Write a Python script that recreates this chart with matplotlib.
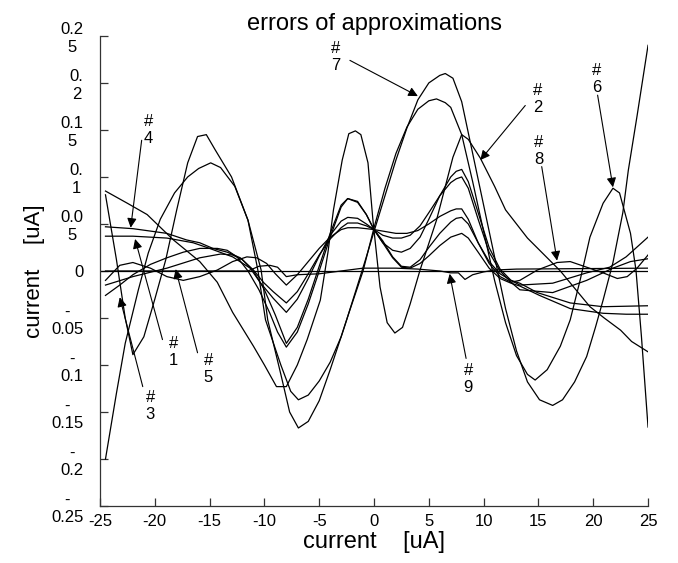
import matplotlib
matplotlib.use("Agg")
import matplotlib.pyplot as plt

plt.rcParams['font.family'] = ['Liberation Sans', 'DejaVu Sans']

# ---- data (x in uA, error in uA) ----
c7_x = [-24.5, -23.5, -22.7, -22, -21, -20, -19, -18, -17, -16.1, -15.3, -14.5, -13, -11.5, -10.3, -9.7,
        -8.5, -7.7, -6.9, -6, -5, -4, -3, -2.5, -1.5, -0.7, 0, 1, 2, 3, 4, 5, 6, 6.5, 7.2, 8, 9, 10, 11,
        12, 13, 14, 15.1, 16.3, 17.2, 18.3, 19.4, 20.2, 20.9, 21.8, 22.7, 23.2, 24, 25]
c7_y = [0.081, 0.012, -0.05, -0.089, -0.07, -0.03, 0.012, 0.065, 0.115, 0.143, 0.145, 0.129, 0.1, 0.054, 0.001, -0.052,
        -0.11, -0.15, -0.167, -0.16, -0.138, -0.105, -0.07, -0.052, -0.015, 0.015, 0.042, 0.08, 0.118, 0.152, 0.182, 0.2,
        0.208, 0.21, 0.205, 0.18, 0.125, 0.07, 0.015, -0.04, -0.085, -0.118, -0.137, -0.143, -0.137, -0.118, -0.091,
        -0.06, -0.031, 0.009, 0.062, 0.107, 0.165, 0.24]

c6_x = [-24.5, -23.5, -22.7, -21.5, -20.6, -19.5, -18.2, -17, -16, -14.9, -14, -12.7, -11.5, -10.6, -9.9, -8.5,
        -7.6, -6.9, -6, -5, -4, -3, -2.3, -1, 0, 1, 2, 3, 4, 5, 5.7, 6.5, 7, 8, 9, 10, 11, 12, 13, 14, 14.7,
        15.8, 17, 17.9, 18.8, 19.7, 20.9, 21.8, 22.4, 23.4, 23.9, 24.4, 25]
c6_y = [-0.2, -0.13, -0.077, -0.02, 0.019, 0.055, 0.083, 0.1, 0.109, 0.115, 0.11, 0.09, 0.054, 0.001, -0.052, -0.1,
        -0.128, -0.137, -0.132, -0.117, -0.097, -0.07, -0.045, 0.0, 0.046, 0.088, 0.125, 0.153, 0.172, 0.181, 0.183,
        0.179, 0.174, 0.145, 0.095, 0.042, -0.01, -0.055, -0.09, -0.11, -0.116, -0.105, -0.08, -0.052, -0.01, 0.036,
        0.072, 0.088, 0.083, 0.04, 0.001, -0.07, -0.166]

c2_x = [-24.5, -22.5, -20.7, -18.3, -15.9, -14.3, -12.9, -11, -10, -8.9, -8, -7, -6.1, -4.9, -4.2, -3.7, -2.9,
        -2.3, -1.7, -1.2, -0.55, -0.1, 0.55, 1.2, 1.9, 2.6, 3.3, 4.2, 5.7, 7.2, 8, 8.6, 9.7, 11, 12, 14, 17,
        19.7, 21, 22.5, 23.5, 25]
c2_y = [0.085, 0.072, 0.06, 0.033, 0.01, -0.012, -0.044, -0.08, -0.1, -0.123, -0.123, -0.1, -0.073, -0.031, 0.02,
        0.065, 0.118, 0.146, 0.149, 0.145, 0.115, 0.054, -0.017, -0.055, -0.066, -0.06, -0.035, 0.001, 0.054, 0.121,
        0.145, 0.14, 0.12, 0.09, 0.065, 0.035, 0.0, -0.038, -0.05, -0.063, -0.075, -0.086]

c4_x = [-24.5, -22, -18.9, -17.1, -15.9, -14.7, -13.4, -12.2, -11, -10.1, -9.2, -8, -7, -6, -5, -4, -3, -2.4,
        -1.5, -0.7, 0, 0.8, 1.7, 2.5, 3.3, 4.2, 5, 6, 7, 8, 8.6, 9.5, 10.5, 11.5, 12.5, 13.3, 15.1, 17.9, 20.9,
        23, 25]
c4_y = [0.047, 0.045, 0.040, 0.033, 0.030, 0.024, 0.020, 0.014, 0.001, -0.012, -0.022, -0.034, -0.022, -0.003,
        0.017, 0.034, 0.046, 0.051, 0.051, 0.048, 0.044, 0.03, 0.014, 0.004, 0.003, 0.008, 0.016, 0.027, 0.036,
        0.040, 0.035, 0.02, 0.003, -0.008, -0.013, -0.016, -0.026, -0.04, -0.045, -0.046, -0.046]

c1_x = [-24.5, -22, -18.9, -16.5, -15, -12.9, -11.3, -10.4, -9.2, -8, -7, -6, -5, -4, -3, -2.4, -1.5, -0.7, 0,
        0.8, 1.7, 2.5, 3.3, 4.2, 5, 6, 7, 7.5, 8, 8.6, 9.5, 10.5, 11.5, 12.5, 13.3, 14.9, 17.9, 20.9, 25]
c1_y = [0.037, 0.037, 0.035, 0.030, 0.024, 0.015, 0.003, -0.012, -0.029, -0.044, -0.03, -0.008, 0.016, 0.038,
        0.053, 0.057, 0.056, 0.05, 0.044, 0.032, 0.015, 0.005, 0.004, 0.012, 0.025, 0.04, 0.052, 0.056, 0.057,
        0.05, 0.03, 0.01, -0.003, -0.01, -0.013, -0.023, -0.034, -0.038, -0.037]

c8_x = [-24.5, -23.2, -22, -20.4, -18.9, -17.4, -15.9, -14.3, -12.9, -11.6, -10.7, -9.8, -9, -8, -7, -6, -5,
        -4, -3, -2.4, -1.5, -0.7, 0, 1, 2, 3, 4, 5, 6, 7, 7.5, 8, 8.6, 9.5, 10.5, 11.5, 12.5, 13.3, 14.9, 16.7,
        17.9, 19.4, 20.9, 22.2, 23.1, 24, 25]
c8_y = [-0.01, 0.006, 0.009, 0.003, -0.006, -0.01, -0.006, 0.001, 0.01, 0.015, 0.014, 0.008, -0.003, -0.015,
        -0.004, 0.01, 0.024, 0.036, 0.044, 0.046, 0.046, 0.045, 0.044, 0.042, 0.04, 0.04, 0.043, 0.05, 0.058,
        0.064, 0.066, 0.066, 0.055, 0.03, 0.008, -0.006, -0.012, -0.01, 0.001, 0.009, 0.01, 0.004, -0.002,
        -0.008, -0.006, 0.003, 0.017]

c5_x = [-24.5, -22, -18.9, -15.9, -14, -12.9, -12, -11, -10, -9, -8, -7, -6, -5, -4, -3, -2.4, -1.5, -0.7, 0,
        0.8, 1.7, 2.5, 3.3, 4.2, 5, 6, 7, 7.5, 8, 8.6, 9.5, 10.5, 11.5, 12.5, 13.3, 16.3, 19.4, 21.8, 23.4, 25]
c5_y = [-0.015, -0.006, 0.003, 0.014, 0.018, 0.017, 0.012, 0.0, -0.02, -0.047, -0.077, -0.06, -0.03, 0.005,
        0.04, 0.07, 0.077, 0.073, 0.06, 0.044, 0.038, 0.035, 0.035, 0.038, 0.048, 0.062, 0.08, 0.094, 0.098,
        0.1, 0.088, 0.055, 0.02, 0.0, -0.012, -0.02, -0.023, -0.01, 0.003, 0.01, 0.013]

c3_x = [-24.5, -23.2, -22, -20.4, -18.9, -17.4, -15.9, -14.3, -13.4, -12.5, -11.5, -10.5, -9.5, -8.8, -8, -7,
        -6, -5, -4, -3, -2.4, -1.5, -0.7, 0, 0.8, 1.7, 2.5, 3.3, 4.2, 5, 6, 7, 7.5, 8, 8.6, 9.5, 10.5, 11.5,
        12.5, 13.3, 16.3, 19.4, 21.5, 23, 25]
c3_y = [-0.026, -0.015, -0.004, 0.007, 0.014, 0.02, 0.024, 0.024, 0.022, 0.015, 0.0, -0.02, -0.045, -0.065,
        -0.081, -0.065, -0.035, 0.0, 0.036, 0.068, 0.077, 0.074, 0.06, 0.044, 0.03, 0.022, 0.02, 0.024, 0.036,
        0.055, 0.08, 0.1, 0.106, 0.108, 0.095, 0.062, 0.025, 0.002, -0.01, -0.015, -0.013, -0.002, 0.004, 0.015,
        0.036]

c9_x = [-24.5, -11.5, -10.5, -9.5, -8.8, -8, -7, -5, -3, -1, 0, 2, 4, 6, 7, 7.7, 8.3, 9, 10, 11, 13, 25]
c9_y = [0.0, 0.0, 0.005, 0.006, 0.004, -0.006, -0.004, -0.003, 0.0, 0.003, 0.003, 0.003, 0.002, 0.0, -0.002,
        -0.002, -0.009, -0.004, -0.001, 0.001, 0.002, 0.003]

curves = [(c1_x, c1_y), (c2_x, c2_y), (c3_x, c3_y), (c4_x, c4_y), (c5_x, c5_y),
          (c6_x, c6_y), (c7_x, c7_y), (c8_x, c8_y), (c9_x, c9_y)]

xtick_vals = [-25, -20, -15, -10, -5, 0, 5, 10, 15, 20, 25]
ytick_vals = [-0.25, -0.2, -0.15, -0.1, -0.05, 0, 0.05, 0.1, 0.15, 0.2, 0.25]
ytick_text = ["-\n0.25", "-\n0.2", "-\n0.15", "-\n0.1", "-\n0.05", "0",
              "0.0\n5", "0.\n1", "0.1\n5", "0.\n2", "0.2\n5"]

# label text, label centre, arrow start, arrow tip
notes = [
    ("#\n7", (-3.5, 0.228), (-2.2, 0.224), (4.0, 0.186)),
    ("#\n2", (14.9, 0.183), (13.8, 0.176), (9.7, 0.118)),
    ("#\n8", (15.0, 0.128), (15.3, 0.111), (16.7, 0.011)),
    ("#\n6", (20.3, 0.204), (20.4, 0.187), (21.8, 0.089)),
    ("#\n4", (-20.6, 0.150), (-21.2, 0.139), (-22.2, 0.046)),
    ("#\n1", (-18.3, -0.086), (-19.3, -0.073), (-21.8, 0.034)),
    ("#\n5", (-15.1, -0.104), (-16.1, -0.087), (-18.1, 0.002)),
    ("#\n3", (-20.4, -0.144), (-21.1, -0.123), (-23.2, -0.028)),
    ("#\n9", (8.6, -0.115), (8.4, -0.093), (6.9, -0.003)),
]

fig = plt.figure(figsize=(6.78, 5.63), dpi=100)
ax = fig.add_axes([0.1475, 0.1012, 0.8083, 0.835])

ax.axhline(0, color='black', lw=0.9)
for xs, ys in curves:
    ax.plot(xs, ys, color='black', lw=0.9)

for txt, lab, start, tip in notes:
    ax.annotate('', xy=tip, xytext=start,
                arrowprops=dict(arrowstyle='-|>', color='black', lw=0.8,
                                mutation_scale=14, shrinkA=0, shrinkB=0))
    ax.text(lab[0], lab[1], txt, ha='center', va='center', fontsize=12,
            linespacing=1.15, multialignment='center')

ax.set_xlim(-25, 25)
ax.set_ylim(-0.25, 0.25)
ax.set_xticks(xtick_vals)
ax.set_xticklabels([str(v) for v in xtick_vals])
ax.set_yticks(ytick_vals)
ax.set_yticklabels(ytick_text)
for lbl in ax.get_yticklabels():
    lbl.set_multialignment('center')

ax.tick_params(axis='both', direction='in', length=6, width=0.9, labelsize=12, colors='#333333')
ax.tick_params(axis='x', pad=6, labelcolor='black')
ax.tick_params(axis='y', pad=12, labelcolor='black')
for side in ['top', 'right']:
    ax.spines[side].set_visible(False)
for side in ['left', 'bottom']:
    ax.spines[side].set_color('#333333')
    ax.spines[side].set_linewidth(0.9)

ax.set_title('errors of approximations', fontsize=17, pad=4)
ax.set_xlabel('current    [uA]', fontsize=17, labelpad=1)
ax.set_ylabel('current    [uA]', fontsize=16, labelpad=4)

fig.savefig('out.png', dpi=100)
